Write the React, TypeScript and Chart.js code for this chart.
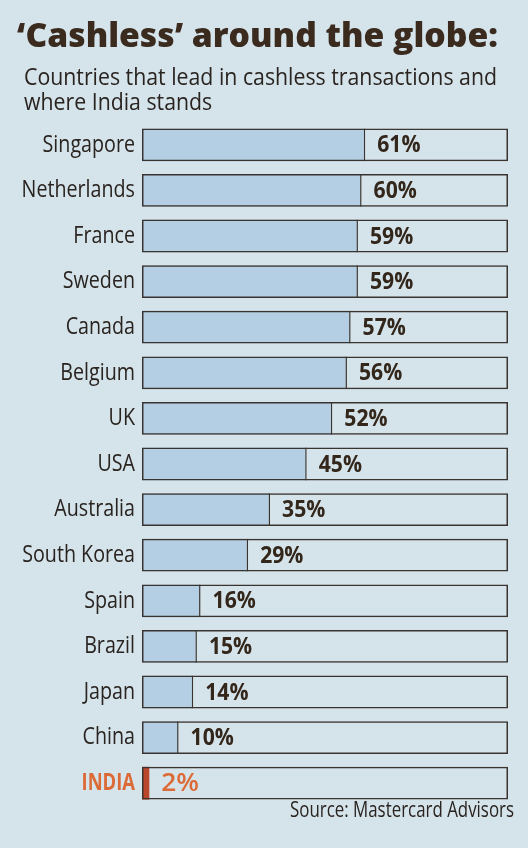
import React, { useEffect, useRef } from "react";
import { Chart, registerables } from "chart.js";

Chart.register(...registerables);

const categories = [
  "Singapore",
  "Netherlands",
  "France",
  "Sweden",
  "Canada",
  "Belgium",
  "UK",
  "USA",
  "Australia",
  "South Korea",
  "Spain",
  "Brazil",
  "Japan",
  "China",
  "INDIA",
];
const values = [61, 60, 59, 59, 57, 56, 52, 45, 35, 29, 16, 15, 14, 10, 2];
const boxTotals = [100, 100, 100, 100, 100, 100, 100, 100, 100, 100, 100, 100, 100, 100, 100];
const highlightIndex = 14;

const titleText = "\u2018Cashless\u2019 around the globe:";
const subtitleLines = ["Countries that lead in cashless transactions and", "where India stands"];
const sourceText = "Source: Mastercard Advisors";

const BG = "#d5e3ea";
const BAR = "#b4cfe3";
const INDIA_BAR = "#b8472c";
const INDIA_TEXT = "#dc6a36";
const OUTLINE = "#3a3430";
const TEXT = "#2a2420";
const VALUE_TEXT = "#33261a";
const TITLE = "#3a2b1e";
const FONT = "'Open Sans', 'Noto Sans', sans-serif";
const CONDENSE = 0.82;

function drawScaled(ctx: CanvasRenderingContext2D, text: string, x: number, y: number, s: number, align: "left" | "right") {
  const w = ctx.measureText(text).width * s;
  ctx.save();
  ctx.translate(align === "right" ? x - w : x, y);
  ctx.scale(s, 1);
  ctx.textAlign = "left";
  ctx.fillText(text, 0, 0);
  ctx.restore();
}

function fitScale(ctx: CanvasRenderingContext2D, text: string, target: number) {
  return target / ctx.measureText(text).width;
}

const decorPlugin = {
  id: "decor",
  beforeDraw(chart: any) {
    const ctx = chart.ctx as CanvasRenderingContext2D;
    ctx.save();
    ctx.fillStyle = BG;
    ctx.fillRect(0, 0, chart.width, chart.height);
    ctx.restore();
  },
  afterDraw(chart: any) {
    const ctx = chart.ctx as CanvasRenderingContext2D;
    ctx.save();
    ctx.textBaseline = "alphabetic";
    // Title
    ctx.fillStyle = TITLE;
    ctx.font = `800 34px ${FONT}`;
    drawScaled(ctx, titleText, 17, 47, fitScale(ctx, titleText, 481), "left");
    // Subtitle
    ctx.fillStyle = TEXT;
    ctx.font = `400 23px ${FONT}`;
    const s = fitScale(ctx, subtitleLines[0], 473);
    drawScaled(ctx, subtitleLines[0], 24, 85, s, "left");
    drawScaled(ctx, subtitleLines[1], 24, 110, s, "left");
    // Source
    ctx.font = `400 21px ${FONT}`;
    drawScaled(ctx, sourceText, 514, 817, fitScale(ctx, sourceText, 224), "right");
    // Category labels
    const yScale = chart.scales.y;
    ctx.textBaseline = "middle";
    categories.forEach((label, i) => {
      const y = yScale.getPixelForValue(i);
      const isHi = i === highlightIndex;
      ctx.fillStyle = isHi ? INDIA_TEXT : TEXT;
      ctx.font = isHi ? `700 23px ${FONT}` : `400 24px ${FONT}`;
      drawScaled(ctx, label, chart.chartArea.left - 7, y, isHi ? 0.8 : CONDENSE, "right");
    });
    ctx.restore();
  },
};

const valueLabelPlugin = {
  id: "valueLabels",
  afterDatasetsDraw(chart: any) {
    const ctx = chart.ctx as CanvasRenderingContext2D;
    const meta = chart.getDatasetMeta(1);
    ctx.save();
    ctx.textBaseline = "middle";
    meta.data.forEach((bar: any, i: number) => {
      const isHi = i === highlightIndex;
      ctx.fillStyle = isHi ? INDIA_TEXT : VALUE_TEXT;
      ctx.font = `${isHi ? 600 : 700} ${isHi ? 25 : 23}px ${FONT}`;
      drawScaled(ctx, `${values[i]}%`, bar.x + 12, bar.y + 1, isHi ? 1.05 : 0.92, "left");
    });
    ctx.restore();
  },
};

export default function App() {
  const canvasRef = useRef<HTMLCanvasElement | null>(null);

  useEffect(() => {
    document.body.style.margin = "0";
    document.body.style.background = BG;
    const canvas = canvasRef.current;
    if (!canvas) return;
    const chart = new Chart(canvas, {
      type: "bar",
      data: {
        labels: categories,
        datasets: [
          {
            label: "Total",
            data: boxTotals,
            backgroundColor: "rgba(0,0,0,0)",
            borderColor: OUTLINE,
            borderWidth: 1.5,
            borderSkipped: false,
            grouped: false,
            barPercentage: 0.72,
            categoryPercentage: 1,
          } as any,
          {
            label: "Cashless share",
            data: values,
            backgroundColor: (c: any) => (c.dataIndex === highlightIndex ? INDIA_BAR : BAR),
            borderColor: OUTLINE,
            borderWidth: (c: any) =>
              c.dataIndex === highlightIndex
                ? 0
                : { top: 0, bottom: 0, left: 0, right: 1.5 },
            borderSkipped: false,
            grouped: false,
            barPercentage: 0.72,
            categoryPercentage: 1,
          } as any,
        ],
      },
      options: {
        indexAxis: "y",
        animation: false,
        responsive: true,
        maintainAspectRatio: false,
        layout: { padding: { top: 122, bottom: 42, left: 0, right: 20 } },
        plugins: {
          legend: { display: false },
          tooltip: { enabled: false },
          title: { display: false },
        },
        scales: {
          x: {
            display: false,
            min: 0,
            max: 100,
          },
          y: {
            grid: { display: false, drawTicks: false },
            border: { display: false },
            ticks: { display: false },
            afterFit: (scale: any) => {
              scale.width = 142;
            },
          },
        },
      } as any,
      plugins: [decorPlugin, valueLabelPlugin],
    });
    return () => chart.destroy();
  }, []);

  return (
    <div style={{ position: "relative", width: 528, height: 848, background: BG }}>
      <canvas ref={canvasRef} />
    </div>
  );
}
